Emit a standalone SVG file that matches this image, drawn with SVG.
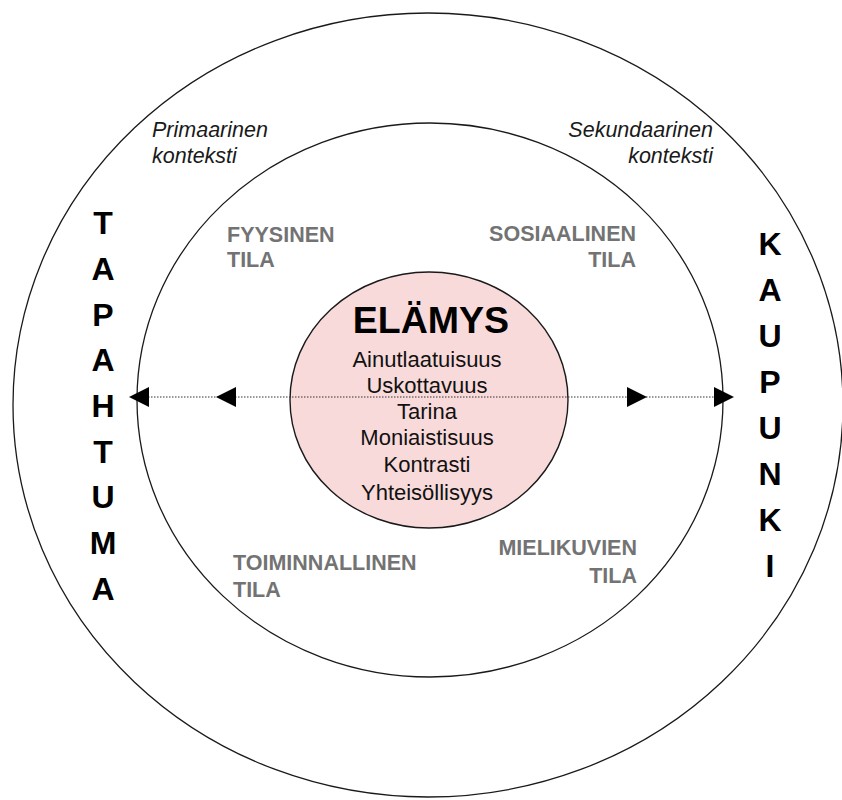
<svg xmlns="http://www.w3.org/2000/svg" width="842" height="800" viewBox="0 0 842 800">
<style>
.ring{fill:none;stroke:#1a1a1a;stroke-width:1.3}
.ctx{font-family:"Liberation Sans",Arial,sans-serif;font-style:italic;font-size:21.5px;fill:#1a1a1a}
.space{font-family:"Liberation Sans",Arial,sans-serif;font-weight:bold;font-size:21.5px;fill:#737373}
.big{font-family:"Liberation Sans",Arial,sans-serif;font-weight:bold;font-size:32px;fill:#000;text-anchor:middle}
.title{font-family:"Liberation Sans",Arial,sans-serif;font-weight:bold;font-size:37.5px;fill:#000;text-anchor:middle}
.item{font-family:"Liberation Sans",Arial,sans-serif;font-size:22px;fill:#111;text-anchor:middle}
.dots{stroke:#333;stroke-width:1;stroke-dasharray:1.5 1.5;fill:none}
.head{fill:#000}
</style>
<defs>
<path id="ah" d="M0,0 L-20,-10 L-20,10 Z"/>
</defs>
<g id="outer-context">
<ellipse class="ring" cx="428" cy="405" rx="415" ry="392"/>
<text class="ctx" x="152" y="137">Primaarinen</text>
<text class="ctx" x="152" y="163">konteksti</text>
<text class="ctx" x="713" y="137" text-anchor="end">Sekundaarinen</text>
<text class="ctx" x="713" y="163" text-anchor="end">konteksti</text>
</g>
<g id="inner-spaces">
<ellipse class="ring" cx="430" cy="400" rx="293" ry="277"/>
<text class="space" x="227" y="242">FYYSINEN</text>
<text class="space" x="227" y="267">TILA</text>
<text class="space" x="636" y="241" text-anchor="end">SOSIAALINEN</text>
<text class="space" x="636" y="267" text-anchor="end">TILA</text>
<text class="space" x="233" y="570">TOIMINNALLINEN</text>
<text class="space" x="233" y="597">TILA</text>
<text class="space" x="637" y="555" text-anchor="end">MIELIKUVIEN</text>
<text class="space" x="637" y="583" text-anchor="end">TILA</text>
</g>
<g id="elamys">
<ellipse cx="429" cy="400" rx="139" ry="128" fill="#f9dada" stroke="#1a1a1a" stroke-width="1.4"/>
<text class="title" x="431" y="333">ELÄMYS</text>
<text class="item" x="427" y="367">Ainutlaatuisuus</text>
<text class="item" x="427" y="392.5">Uskottavuus</text>
<text class="item" x="427" y="418.5">Tarina</text>
<text class="item" x="427" y="445">Moniaistisuus</text>
<text class="item" x="427" y="472">Kontrasti</text>
<text class="item" x="427" y="500">Yhteisöllisyys</text>
</g>
<g id="tapahtuma">
<text class="big" x="103" y="234">T</text>
<text class="big" x="103" y="280">A</text>
<text class="big" x="103" y="325.5">P</text>
<text class="big" x="103" y="371">A</text>
<text class="big" x="103" y="417">H</text>
<text class="big" x="103" y="462.5">T</text>
<text class="big" x="103" y="508">U</text>
<text class="big" x="103" y="554">M</text>
<text class="big" x="103" y="600">A</text>
</g>
<g id="kaupunki">
<text class="big" x="770" y="255">K</text>
<text class="big" x="770" y="301">A</text>
<text class="big" x="770" y="347">U</text>
<text class="big" x="770" y="393">P</text>
<text class="big" x="770" y="439">U</text>
<text class="big" x="770" y="485">N</text>
<text class="big" x="770" y="531">K</text>
<text class="big" x="770" y="577">I</text>
</g>
<g id="connectors">
<line class="dots" x1="145" y1="397" x2="718" y2="397"/>
<use href="#ah" class="head" transform="translate(129,397) rotate(180)"/>
<use href="#ah" class="head" transform="translate(216,397) rotate(180)"/>
<use href="#ah" class="head" transform="translate(647,397)"/>
<use href="#ah" class="head" transform="translate(734,397)"/>
</g>
</svg>
